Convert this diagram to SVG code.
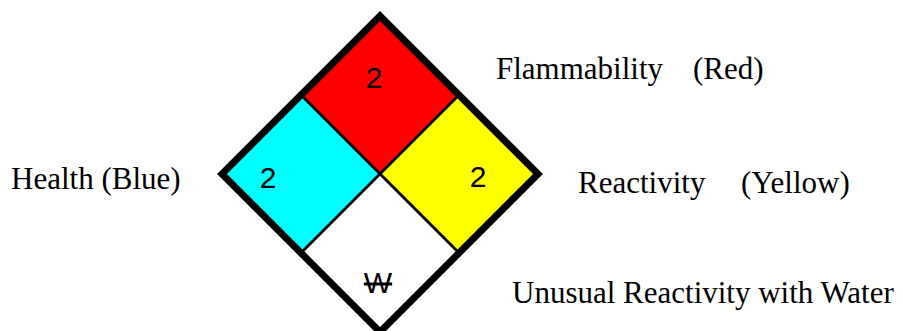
<svg xmlns="http://www.w3.org/2000/svg" width="903" height="331" viewBox="0 0 903 331">
  <style>
    .quad { stroke: #000; stroke-width: 2.5; stroke-linejoin: miter; }
    .rating { font-family: "Liberation Sans", Arial, sans-serif; font-size: 30px; fill: #000; text-anchor: middle; }
    .label { font-family: "Liberation Serif", "Times New Roman", serif; font-size: 31px; fill: #000; }
    .border { fill: none; stroke: #000; stroke-width: 7; stroke-linejoin: miter; }
  </style>

  <rect width="903" height="331" fill="#fff"/>

  <!-- fire diamond: centre (380,174), half-diagonal 158 -->
  <g id="diamond">
    <g id="flammability">
      <polygon class="quad" fill="#FF0000" points="380,16 459,95 380,174 301,95"/>
      <text class="rating" x="374" y="88">2</text>
    </g>
    <g id="health">
      <polygon class="quad" fill="#00FFFF" points="301,95 380,174 301,253 222,174"/>
      <text class="rating" x="268" y="188">2</text>
    </g>
    <g id="reactivity">
      <polygon class="quad" fill="#FFFF00" points="459,95 538,174 459,253 380,174"/>
      <text class="rating" x="478" y="187">2</text>
    </g>
    <g id="special">
      <polygon class="quad" fill="#FFFFFF" points="380,174 459,253 380,332 301,253"/>
      <text class="rating" x="378" y="293" text-decoration="line-through">W</text>
    </g>
    <polygon id="outline" class="border" points="380,16 538,174 380,332 222,174"/>
  </g>

  <g id="labels">
    <text id="label-flammability" class="label" y="79"><tspan x="496">Flammability</tspan><tspan x="693">(Red)</tspan></text>
    <text id="label-health" class="label" x="11" y="189">Health (Blue)</text>
    <text id="label-reactivity" class="label" y="193"><tspan x="578">Reactivity</tspan><tspan x="741">(Yellow)</tspan></text>
    <text id="label-special" class="label" x="512" y="303">Unusual Reactivity with Water</text>
  </g>
</svg>
